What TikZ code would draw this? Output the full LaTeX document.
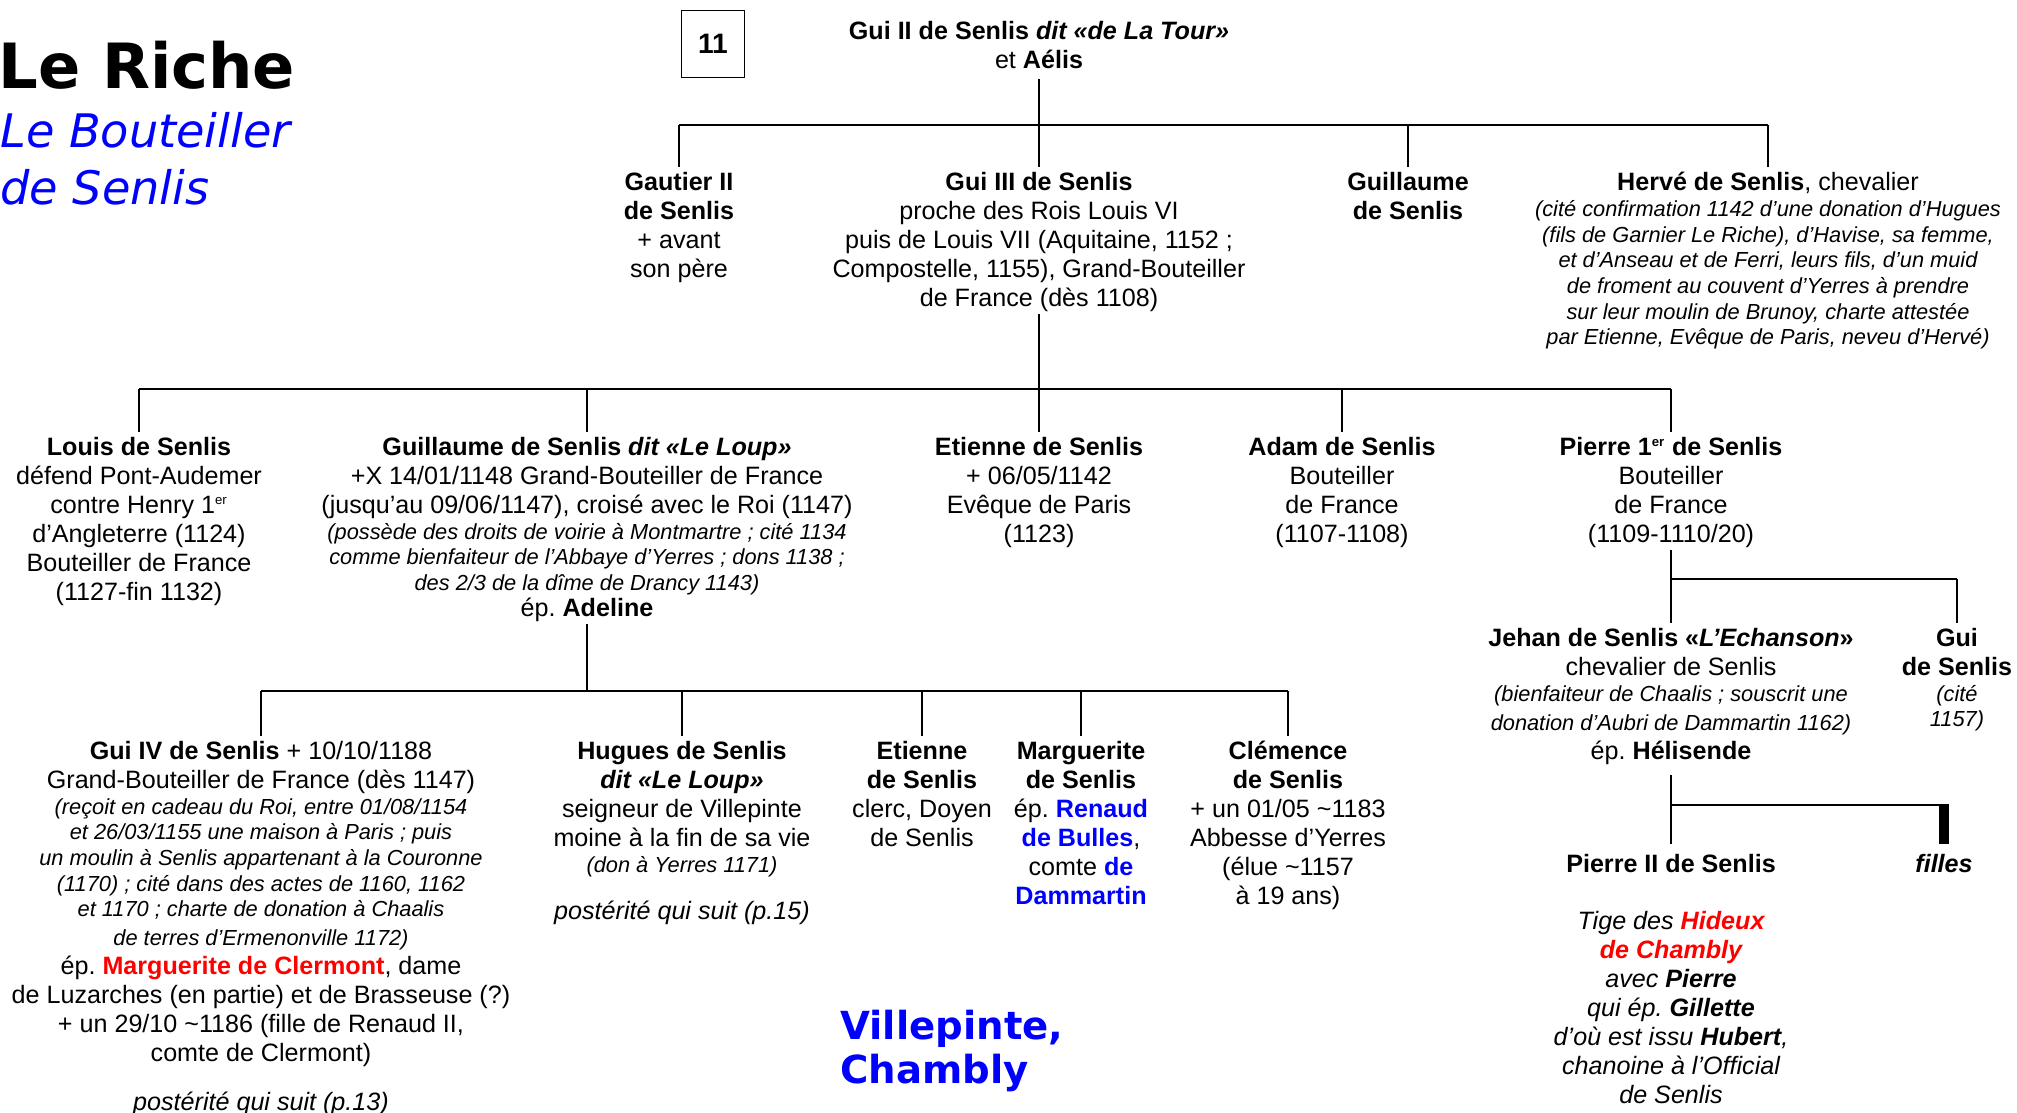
\documentclass[tikz,border=0pt]{standalone}
\usepackage{fontspec}
\setmainfont{Liberation Sans}
\newfontfamily\dejavu{DejaVu Sans}
\usetikzlibrary{positioning}

\definecolor{titleblue}{RGB}{0,0,255}
\definecolor{namered}{RGB}{255,0,0}
\newcommand{\note}[1]{{\fontsize{12.4}{14.6}\selectfont\itshape #1}}
\newcommand{\rouge}[1]{\textcolor{namered}{#1}}
\newcommand{\bleu}[1]{\textcolor{titleblue}{#1}}
\newcommand{\er}{\textsuperscript{\fontsize{7.5}{7.5}\selectfont er}}
\frenchspacing

\begin{document}
\begin{tikzpicture}[x=0.02cm, y=-0.02cm,
    person/.style={align=center, inner sep=0pt, anchor=north,
      font=\fontsize{14.3}{16.5}\selectfont,
      execute at begin node=\rule{0pt}{13pt}},
    link/.style={line width=1.25pt},
    drop/.style={link, shorten >=0.1cm}]
  \useasboundingbox (0,0) rectangle (2017,1112);

  % Titre
  \node[anchor=base west, inner sep=0pt, font=\dejavu\bfseries\fontsize{35.5}{40}\selectfont] (title) at (-2,88) {Le Riche};
  \node[anchor=north west, inner sep=0pt, align=left, text=titleblue,
    font=\dejavu\itshape\fontsize{26.3}{32.4}\selectfont] (subtitle) at (0,112) {Le Bouteiller\\de Senlis};
  \node[draw, line width=0.6pt, minimum width=1.26cm, minimum height=1.34cm,
    font=\fontsize{16}{18}\selectfont\bfseries] (num) at (713,44) {11};

  % Premier couple
  \node[person] (guiII) at (1039,21) {\textbf{Gui II de Senlis \textit{dit «de La Tour»}}\\et \textbf{Aélis}};

  % Enfants de Gui II
  \node[person] (gautier) at (679,172) {\textbf{Gautier II}\\\textbf{de Senlis}\\+ avant\\son père};
  \node[person] (guiIII) at (1039,172) {\textbf{Gui III de Senlis}\\
    proche des Rois Louis VI\\
    puis de Louis VII (Aquitaine, 1152 ;\\
    Compostelle, 1155), Grand-Bouteiller\\
    de France (dès 1108)};
  \node[person] (guillaume) at (1408,172) {\textbf{Guillaume}\\\textbf{de Senlis}};
  \node[person] (herve) at (1768,172) {\textbf{Hervé de Senlis}, chevalier\\[-1.9pt]
    \note{(cité confirmation 1142 d’une donation d’Hugues}\\[-1.9pt]
    \note{(fils de Garnier Le Riche), d’Havise, sa femme,}\\[-1.9pt]
    \note{et d’Anseau et de Ferri, leurs fils, d’un muid}\\[-1.9pt]
    \note{de froment au couvent d’Yerres à prendre}\\[-1.9pt]
    \note{sur leur moulin de Brunoy, charte attestée}\\[-1.9pt]
    \note{par Etienne, Evêque de Paris, neveu d’Hervé)}};

  % Enfants de Gui III
  \node[person] (louis) at (139,437) {\textbf{Louis de Senlis}\\
    défend Pont-Audemer\\
    contre Henry 1\er\\
    d’Angleterre (1124)\\
    Bouteiller de France\\
    (1127-fin 1132)};
  \node[person] (guillaumeL) at (587,437) {\textbf{Guillaume de Senlis \textit{dit «Le Loup»}}\\
    +X 14/01/1148 Grand-Bouteiller de France\\
    (jusqu’au 09/06/1147), croisé avec le Roi (1147)\\[-1.9pt]
    \note{(possède des droits de voirie à Montmartre ; cité 1134}\\[-1.9pt]
    \note{comme bienfaiteur de l’Abbaye d’Yerres ; dons 1138 ;}\\[-1.9pt]
    \note{des 2/3 de la dîme de Drancy 1143)}\\[-1.5pt]
    ép. \textbf{Adeline}};
  \node[person] (etienne) at (1039,437) {\textbf{Etienne de Senlis}\\+ 06/05/1142\\Evêque de Paris\\(1123)};
  \node[person] (adam) at (1342,437) {\textbf{Adam de Senlis}\\Bouteiller\\de France\\(1107-1108)};
  \node[person] (pierreI) at (1671,437) {\textbf{Pierre 1\er\ de Senlis}\\Bouteiller\\de France\\(1109-1110/20)};

  % Enfants de Pierre 1er
  \node[person] (jehan) at (1671,628) {\textbf{Jehan de Senlis «\textit{L’Echanson}»}\\
    chevalier de Senlis\\[-1.9pt]
    \note{(bienfaiteur de Chaalis ; souscrit une}\\
    \note{donation d’Aubri de Dammartin 1162)}\\
    ép. \textbf{Hélisende}};
  \node[person] (guiS) at (1957,628) {\textbf{Gui}\\\textbf{de Senlis}\\[-1.9pt]\note{(cité}\\[-1.9pt]\note{1157)}};

  % Enfants de Jehan
  \node[person] (pierreII) at (1671,849) {\textbf{Pierre II de Senlis}};
  \node[person] (filles) at (1944,849) {\textbf{\textit{filles}}};
  \node[person, font=\fontsize{14.3}{16.5}\selectfont\itshape] (tige) at (1671,911) {Tige des \textbf{\rouge{Hideux}}\\
    \textbf{\rouge{de Chambly}}\\
    avec \textbf{Pierre}\\
    qui ép. \textbf{Gillette}\\
    d’où est issu \textbf{Hubert},\\
    chanoine à l’Official\\
    de Senlis};

  % Enfants de Guillaume
  \node[person] (guiIV) at (261,741) {\textbf{Gui IV de Senlis} + 10/10/1188\\
    Grand-Bouteiller de France (dès 1147)\\[-1.9pt]
    \note{(reçoit en cadeau du Roi, entre 01/08/1154}\\[-1.9pt]
    \note{et 26/03/1155 une maison à Paris ; puis}\\[-1.9pt]
    \note{un moulin à Senlis appartenant à la Couronne}\\[-1.9pt]
    \note{(1170) ; cité dans des actes de 1160, 1162}\\[-1.9pt]
    \note{et 1170 ; charte de donation à Chaalis}\\
    \note{de terres d’Ermenonville 1172)}\\
    ép. \textbf{\rouge{Marguerite de Clermont}}, dame\\
    de Luzarches (en partie) et de Brasseuse (?)\\
    + un 29/10 \textasciitilde1186 (fille de Renaud II,\\
    comte de Clermont)\\[11pt]
    \textit{postérité qui suit (p.13)}};
  \node[person] (hugues) at (682,741) {\textbf{Hugues de Senlis}\\
    \textbf{\textit{dit «Le Loup»}}\\
    seigneur de Villepinte\\
    moine à la fin de sa vie\\[-1.5pt]
    \note{(don à Yerres 1171)}\\[10pt]
    \textit{postérité qui suit (p.15)}};
  \node[person] (etienneD) at (922,741) {\textbf{Etienne}\\\textbf{de Senlis}\\clerc, Doyen\\de Senlis};
  \node[person] (marguerite) at (1081,741) {\textbf{Marguerite}\\\textbf{de Senlis}\\
    ép. \textbf{\bleu{Renaud}}\\\textbf{\bleu{de Bulles}},\\comte \textbf{\bleu{de}}\\\textbf{\bleu{Dammartin}}};
  \node[person] (clemence) at (1288,741) {\textbf{Clémence}\\\textbf{de Senlis}\\
    + un 01/05 \textasciitilde1183\\Abbesse d’Yerres\\(élue \textasciitilde1157\\à 19 ans)};

  \node[anchor=north west, inner sep=0pt, align=left, text=titleblue,
    font=\dejavu\bfseries\fontsize{22}{25}\selectfont] (place) at (840,1010) {Villepinte,\\Chambly};

  % Liens
  \coordinate (bar1) at (1039,125);
  \draw[link, shorten <=0.2cm] (guiII.south) -- (bar1);
  \draw[link] (gautier |- bar1) -- (herve |- bar1);
  \foreach \n in {gautier,guiIII,guillaume,herve}
    \draw[drop] (\n |- bar1) -- (\n.north);

  \coordinate (bar2) at (1039,389);
  \draw[link, shorten <=0.04cm] (guiIII.south) -- (bar2);
  \draw[link] (louis |- bar2) -- (pierreI |- bar2);
  \foreach \n in {louis,guillaumeL,etienne,adam,pierreI}
    \draw[drop] (\n |- bar2) -- (\n.north);

  \coordinate (bar3) at (1671,579);
  \draw[link, shorten <=0.04cm] (pierreI.south) -- (bar3);
  \draw[link] (jehan |- bar3) -- (guiS |- bar3);
  \foreach \n in {jehan,guiS}
    \draw[drop] (\n |- bar3) -- (\n.north);

  \coordinate (bar4) at (587,691);
  \draw[link, shorten <=0.04cm] (guillaumeL.south) -- (bar4);
  \draw[link] (guiIV |- bar4) -- (clemence |- bar4);
  \foreach \n in {guiIV,hugues,etienneD,marguerite,clemence}
    \draw[drop] (\n |- bar4) -- (\n.north);

  \coordinate (bar5) at (1671,805);
  \draw[link, shorten <=0.2cm] (jehan.south) -- (bar5);
  \draw[link] (pierreII |- bar5) -- ([xshift=0.1cm]filles |- bar5);
  \draw[drop] (pierreII |- bar5) -- (pierreII.north);
  \draw[line width=5.7pt, shorten >=0.1cm] (filles |- bar5) -- (filles.north);
\end{tikzpicture}
\end{document}
